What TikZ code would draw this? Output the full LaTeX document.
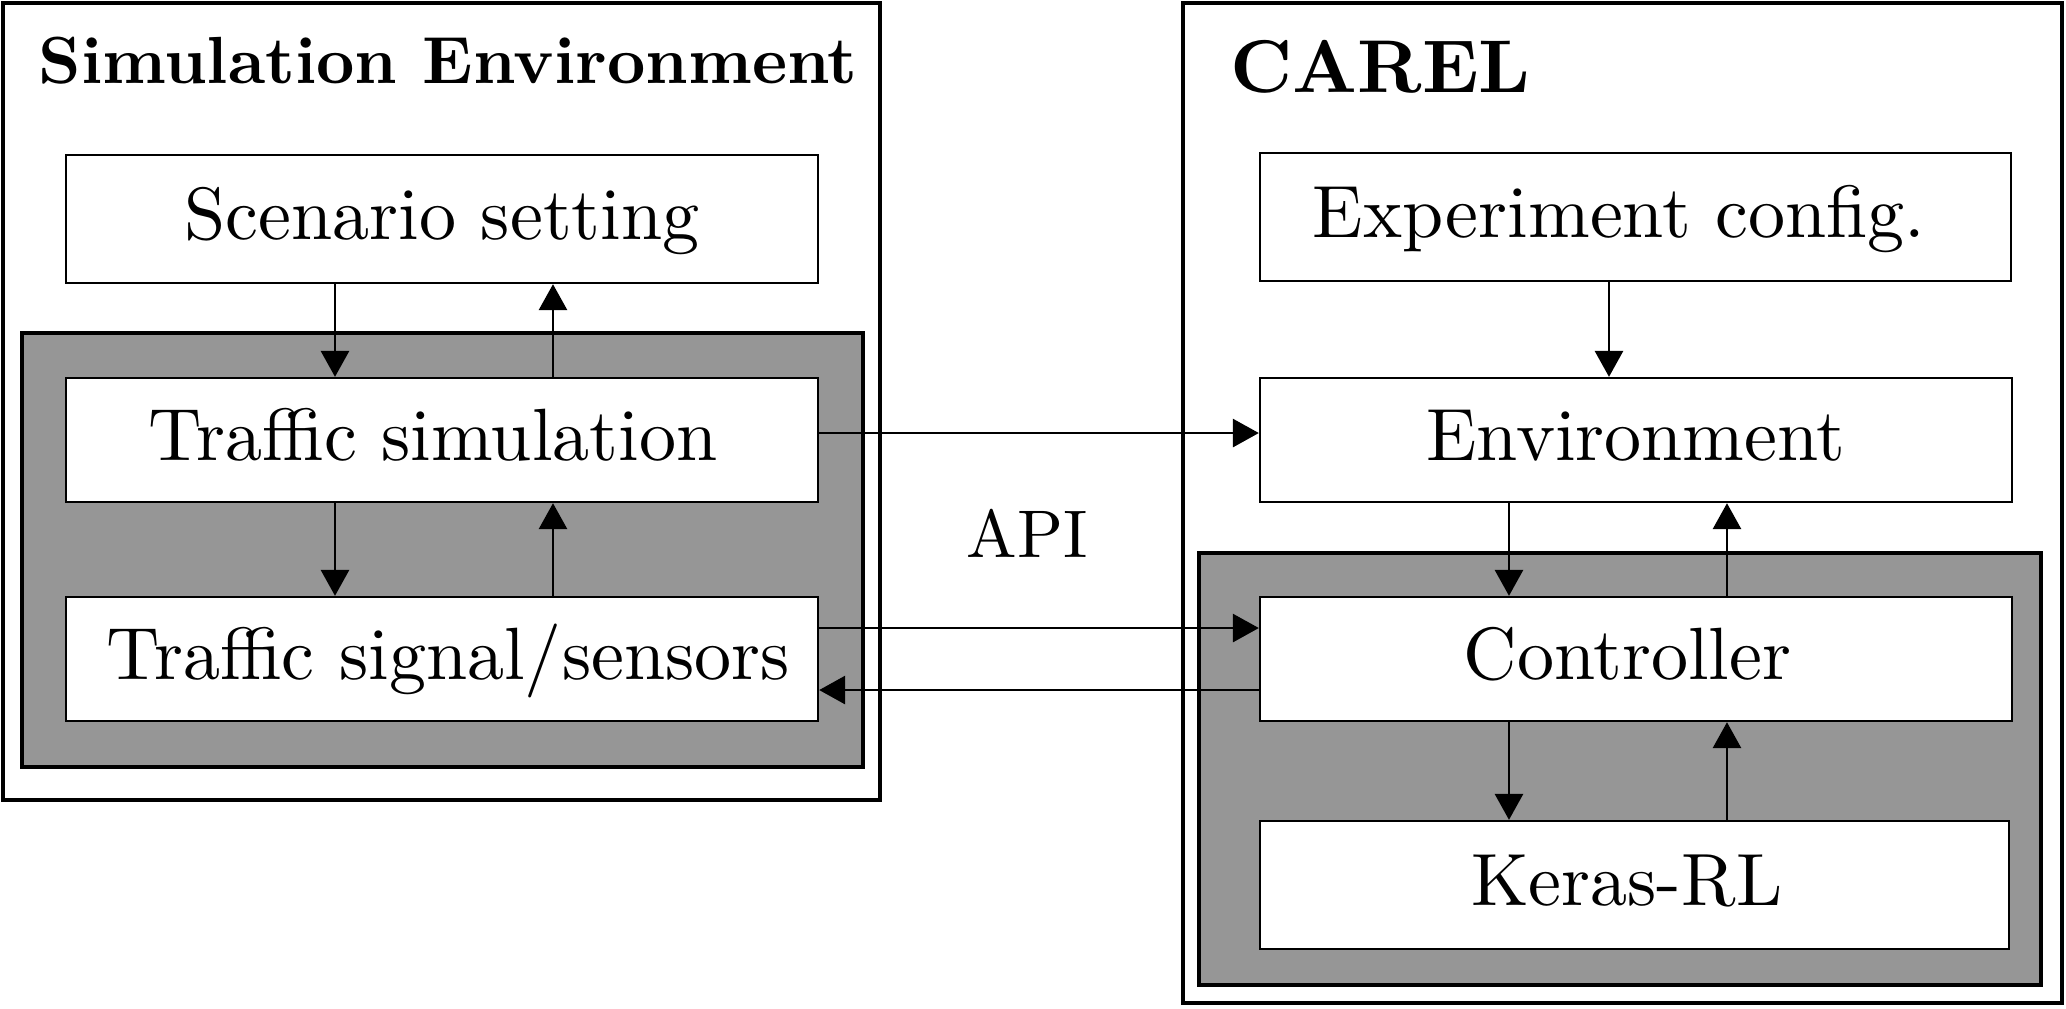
\documentclass[tikz,border=0pt]{standalone}
\usetikzlibrary{arrows.meta}
\definecolor{boxgray}{RGB}{150,150,150}
\tikzset{
  px/.style={x=0.135pt,y=-0.135pt},
  blk/.style={draw=black,fill=white,line width=0.32pt,rectangle,inner sep=0pt,
    minimum width=101.52pt,minimum height=16.74pt,font=\fontsize{10}{12}\selectfont,
    text height=0.7em,text depth=0.16em},
  outerbox/.style={draw=black,line width=0.62pt},
  graybox/.style={draw=black,fill=boxgray,line width=0.54pt},
  arr/.style={-{Triangle[length=3.5pt,width=3.8pt]},line width=0.32pt},
  titletext/.style={font=\fontsize{10}{12}\selectfont\bfseries,inner sep=0pt},
}
\begin{document}
\begin{tikzpicture}[px]
\useasboundingbox (0,0) rectangle (2066,1008);
% outer containers
\draw[outerbox] (3,3) rectangle (880,800);
\draw[outerbox] (1183,3) rectangle (2062,1003);
\draw[graybox] (22,333) rectangle (863,767);
\draw[graybox] (1199,553) rectangle (2041,985);
% titles
\node[titletext,anchor=base,scale=0.9] (simtitle) at (448,83) {Simulation Environment};
\node[titletext,anchor=base west,scale=1.01] (careltitle) at (1229,92) {CAREL};
% blocks left
\node[blk,minimum height=17.28pt] (scen) at (442,219) {Scenario setting};
\node[blk] (tsim) at (442,440) {Traffic simulation\kern2.4pt};
\node[blk] (tsig) at (442,659) {\kern1.7pt Traffic signal/sensors};
% blocks right
\node[blk,minimum width=101.385pt,minimum height=17.28pt] (exp) at (1635.5,217) {Experiment config.\kern4.4pt};
\node[blk] (env) at (1636,440) {Environment};
\node[blk] (ctrl) at (1636,659) {Controller\kern2.3pt};
\node[blk,minimum width=101.115pt,minimum height=17.28pt] (keras) at (1634.5,885) {Keras-RL\kern2.1pt};
% API label
\node[font=\fontsize{10}{12}\selectfont,inner sep=0pt,anchor=base,scale=0.91] (api) at (1027,557) {API};
% column coordinates
\coordinate (cL1) at (335,0);
\coordinate (cL2) at (553,0);
\coordinate (cR0) at (1609,0);
\coordinate (cR1) at (1509,0);
\coordinate (cR2) at (1727,0);
\coordinate (r1) at (0,433);
\coordinate (r2) at (0,628);
\coordinate (r3) at (0,690);
% vertical arrows left
\draw[arr] (scen.south -| cL1) -- (tsim.north -| cL1);
\draw[arr] (tsim.north -| cL2) -- (scen.south -| cL2);
\draw[arr] (tsim.south -| cL1) -- (tsig.north -| cL1);
\draw[arr] (tsig.north -| cL2) -- (tsim.south -| cL2);
% vertical arrows right
\draw[arr] (exp.south -| cR0) -- (env.north -| cR0);
\draw[arr] (env.south -| cR1) -- (ctrl.north -| cR1);
\draw[arr] (ctrl.north -| cR2) -- (env.south -| cR2);
\draw[arr] (ctrl.south -| cR1) -- (keras.north -| cR1);
\draw[arr] (keras.north -| cR2) -- (ctrl.south -| cR2);
% horizontal arrows (API)
\draw[arr] (tsim.east |- r1) -- (env.west |- r1);
\draw[arr] (tsig.east |- r2) -- (ctrl.west |- r2);
\draw[arr] (ctrl.west |- r3) -- (tsig.east |- r3);
\end{tikzpicture}
\end{document}
